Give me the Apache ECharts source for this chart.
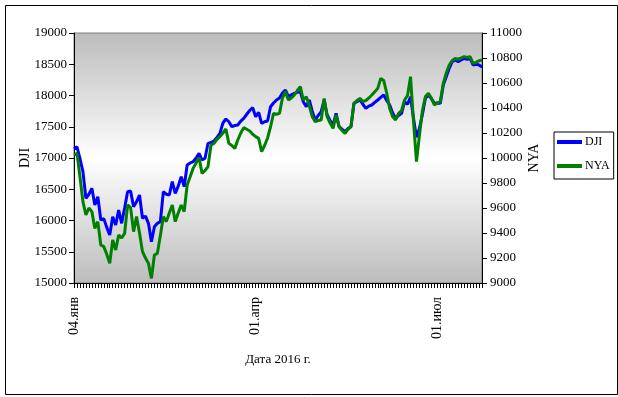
<!DOCTYPE html>
<html>
<head>
<meta charset="utf-8">
<script src="https://cdn.jsdelivr.net/npm/echarts@6/dist/echarts.min.js"></script>
<style>
html,body{margin:0;padding:0;background:#fff;}
#chart{width:618px;height:397px;}
</style>
</head>
<body>
<div id="chart"></div>
<script>
// Trading dates (category axis)
var dates = [
"04.янв","05.янв","06.янв","07.янв","08.янв","11.янв","12.янв","13.янв","14.янв","15.янв",
"19.янв","20.янв","21.янв","22.янв","25.янв","26.янв","27.янв","28.янв","29.янв",
"01.фев","02.фев","03.фев","04.фев","05.фев","08.фев","09.фев","10.фев","11.фев","12.фев",
"16.фев","17.фев","18.фев","19.фев","22.фев","23.фев","24.фев","25.фев","26.фев","29.фев",
"01.мар","02.мар","03.мар","04.мар","07.мар","08.мар","09.мар","10.мар","11.мар","14.мар",
"15.мар","16.мар","17.мар","18.мар","21.мар","22.мар","23.мар","24.мар","28.мар","29.мар","30.мар","31.мар",
"01.апр","04.апр","05.апр","06.апр","07.апр","08.апр","11.апр","12.апр","13.апр","14.апр",
"15.апр","18.апр","19.апр","20.апр","21.апр","22.апр","25.апр","26.апр","27.апр","28.апр","29.апр",
"04.май","05.май","06.май","10.май","11.май","12.май","13.май","16.май","17.май","18.май",
"19.май","20.май","23.май","24.май","25.май","26.май","27.май","31.май",
"01.июн","02.июн","03.июн","06.июн","07.июн","08.июн","09.июн","10.июн","13.июн","14.июн",
"15.июн","16.июн","17.июн","20.июн","21.июн","22.июн","23.июн","24.июн","27.июн","28.июн","29.июн","30.июн",
"01.июл","05.июл","06.июл","07.июл","08.июл","11.июл","12.июл","13.июл","14.июл","15.июл",
"18.июл","19.июл","20.июл","21.июл","22.июл","25.июл"
];

var dji = [
17148,17180,16990,16781,16355,16420,16515,16248,16381,16008,
16030,15890,15768,16061,15928,16168,15955,16200,16461,16472,
16221,16300,16408,16035,16070,15955,15661,15900,15955,15981,
16461,16420,16408,16621,16435,16550,16701,16541,16888,16920,
16941,17000,17075,16968,16995,17235,17250,17272,17330,17395,
17560,17624,17580,17501,17520,17528,17590,17635,17700,17760,
17805,17661,17731,17555,17580,17592,17821,17880,17928,17960,
18040,18088,17981,18010,18035,18050,18061,17900,17821,17928,
17750,17608,17680,17741,17928,17688,17600,17528,17715,17501,
17460,17421,17470,17501,17875,17900,17928,17860,17795,17830,
17848,17890,17928,17970,18008,17920,17848,17720,17635,17680,
17715,17901,17860,17981,17635,17330,17475,17700,17955,18008,
17950,17875,17880,17875,18168,18300,18435,18540,18568,18541,
18570,18595,18580,18595,18488,18500,18488,18455
];

var nya = [
10024,10037,9850,9651,9544,9600,9571,9437,9491,9304,
9291,9230,9157,9344,9264,9384,9360,9397,9624,9603,
9411,9531,9400,9251,9200,9157,9037,9224,9237,9380,
9531,9491,9560,9624,9491,9560,9624,9571,9784,9850,
9917,9960,10003,9877,9900,9931,10104,10117,10150,10171,
10200,10232,10117,10100,10077,10144,10200,10243,10230,10216,
10190,10171,10157,10051,10100,10160,10250,10357,10350,10357,
10480,10531,10464,10480,10504,10540,10571,10464,10491,10420,
10330,10291,10300,10304,10477,10331,10280,10237,10344,10251,
10220,10197,10230,10251,10437,10460,10477,10451,10460,10480,
10504,10530,10557,10637,10620,10520,10397,10330,10304,10357,
10380,10464,10500,10651,10291,9971,10184,10380,10491,10517,
10480,10424,10440,10451,10597,10680,10744,10780,10797,10790,
10800,10811,10805,10811,10757,10765,10778,10784
];

var leftTicks = {min:15000, max:19000, step:500};
var rightTicks = {min:9000, max:11000, step:200};

var FONT = "'Liberation Serif','Times New Roman',serif";
var chart = echarts.init(document.getElementById('chart'), null, {renderer:'canvas'});
chart.setOption({
  animation:false,
  backgroundColor:'#ffffff',
  graphic:[{
    type:'rect', left:3, top:3, z:-1,
    shape:{width:612, height:389},
    style:{fill:null, stroke:'#000', lineWidth:1}
  }],
  grid:{
    left:74, right:136, top:33, bottom:114,
    show:true, borderColor:'#808080', borderWidth:1,
    backgroundColor:new echarts.graphic.LinearGradient(0,0,0,1,[
      {offset:0,color:'#bcbcbc'},{offset:0.5,color:'#ffffff'},{offset:1,color:'#bcbcbc'}
    ])
  },
  legend:{
    orient:'vertical', left:554, top:132,
    backgroundColor:'#fff', borderColor:'#000', borderWidth:1,
    padding:[4,4,7,3], itemGap:12, itemWidth:25, itemHeight:4,
    icon:'rect',
    textStyle:{fontFamily:FONT, fontSize:12, color:'#000', padding:[0,0,0,-2]},
    data:['DJI','NYA']
  },
  xAxis:{
    type:'category', data:dates, boundaryGap:false,
    name:'Дата 2016 г.', nameLocation:'middle', nameGap:70, nameMoveOverlap:false,
    nameTextStyle:{fontFamily:FONT, fontSize:13, color:'#000'},
    axisLine:{lineStyle:{color:'#000', width:1}},
    axisTick:{interval:0, length:5, lineStyle:{color:'#000'}},
    axisLabel:{interval:60, rotate:90, fontFamily:FONT, fontSize:14, color:'#000', margin:14},
    splitLine:{show:false}
  },
  yAxis:[{
    type:'value', position:'left', min:leftTicks.min, max:leftTicks.max, interval:leftTicks.step,
    name:'DJI', nameLocation:'middle', nameRotate:90, nameGap:42, nameMoveOverlap:false,
    nameTextStyle:{fontFamily:FONT, fontSize:14, color:'#000'},
    axisLine:{show:true, lineStyle:{color:'#000'}},
    axisTick:{show:true, length:5, lineStyle:{color:'#000'}},
    axisLabel:{fontFamily:FONT, fontSize:13, color:'#000', margin:7, formatter:function(v){return String(v);}},
    splitLine:{show:false}
  },{
    type:'value', position:'right', min:rightTicks.min, max:rightTicks.max, interval:rightTicks.step,
    name:'NYA', nameLocation:'middle', nameRotate:90, nameGap:45, nameMoveOverlap:false,
    nameTextStyle:{fontFamily:FONT, fontSize:14, color:'#000'},
    axisLine:{show:true, lineStyle:{color:'#000'}},
    axisTick:{show:true, length:5, lineStyle:{color:'#000'}},
    axisLabel:{fontFamily:FONT, fontSize:13, color:'#000', margin:8, formatter:function(v){return String(v);}},
    splitLine:{show:false}
  }],
  series:[{
    name:'DJI', type:'line', yAxisIndex:0, data:dji, symbol:'none',
    lineStyle:{color:'#0000ff', width:3}, itemStyle:{color:'#0000ff'}
  },{
    name:'NYA', type:'line', yAxisIndex:1, data:nya, symbol:'none',
    lineStyle:{color:'#008000', width:3}, itemStyle:{color:'#008000'}
  }]
});
</script>
</body>
</html>
